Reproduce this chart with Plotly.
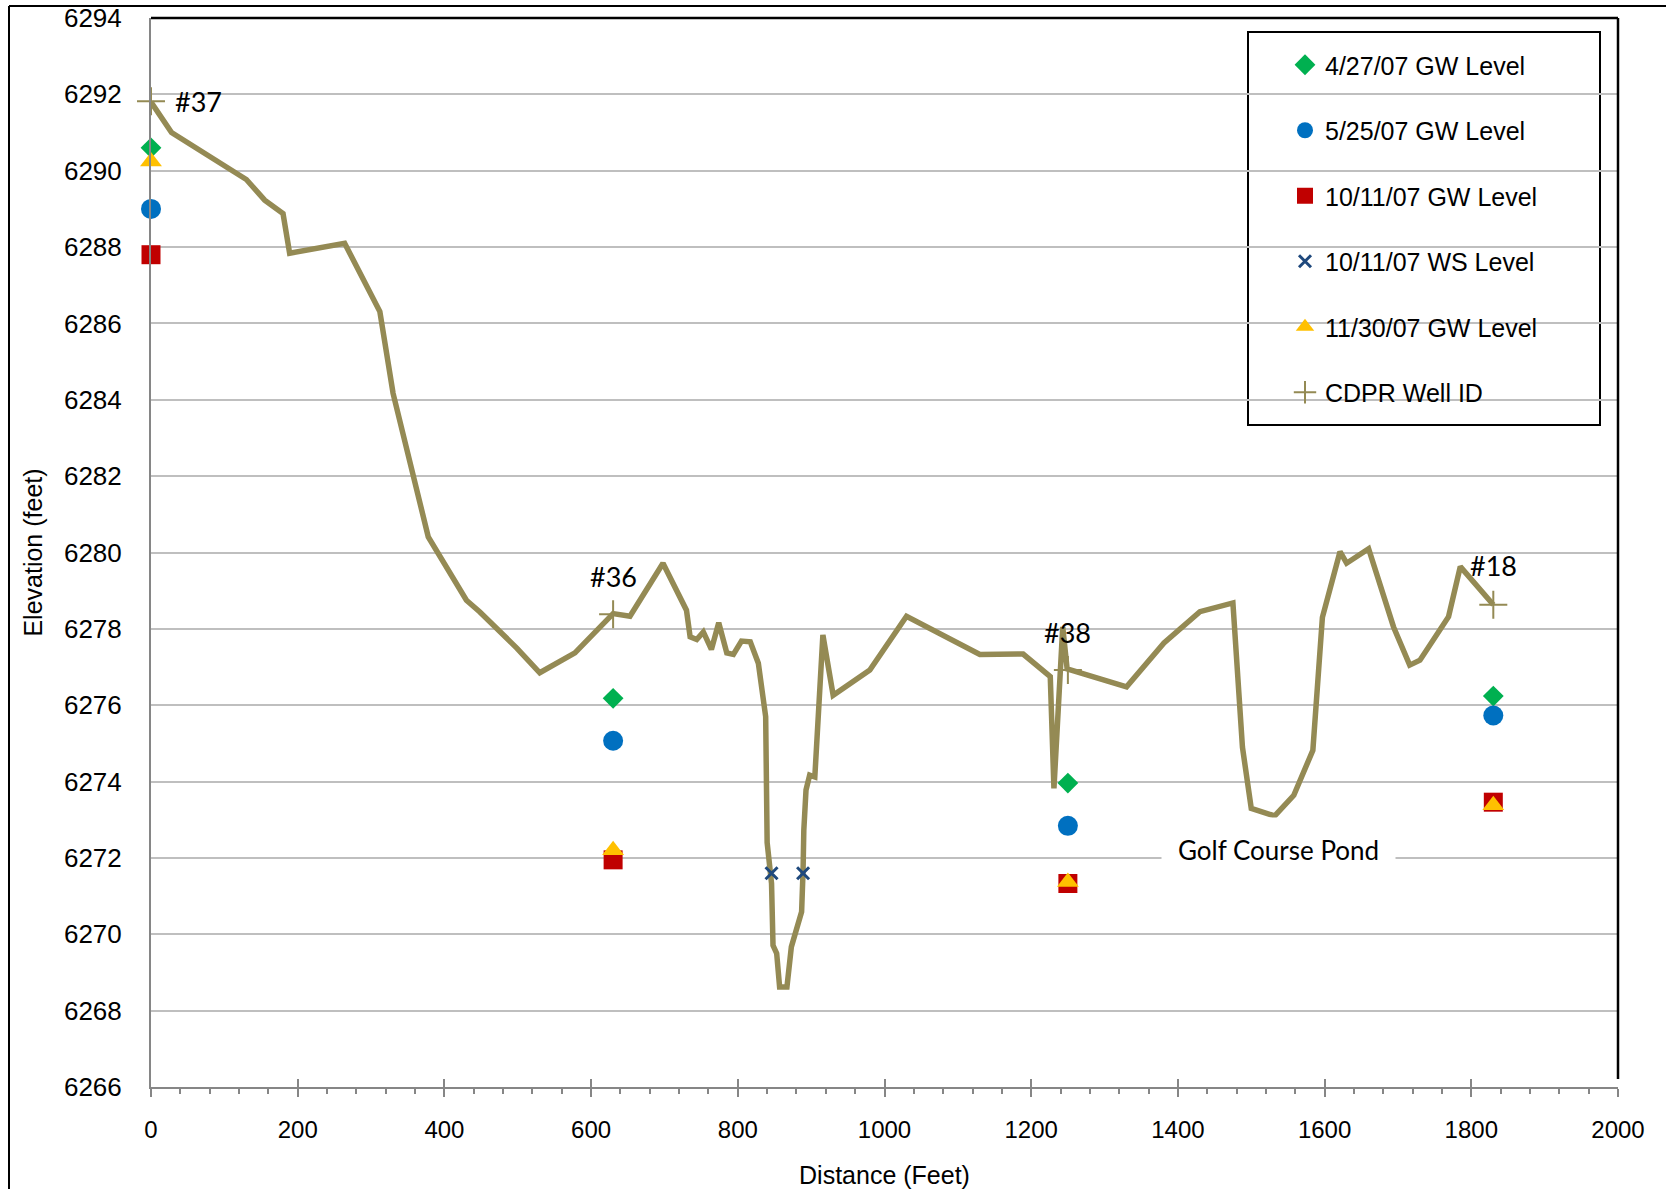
import plotly.graph_objects as go

# ---------------- data ----------------
profile_dist = [0, 28, 130, 155, 180, 189, 264, 312, 330, 378, 430, 448, 499, 530, 578,
                630, 653, 698, 730, 735, 744, 753, 764, 774, 785, 794, 805, 817, 828,
                838, 840, 846, 848, 853, 857, 867, 873, 887, 889, 890, 893, 898, 905,
                916, 930, 980, 1030, 1130, 1189, 1226, 1231, 1243, 1249, 1330, 1381,
                1430, 1475, 1488, 1500, 1532, 1558, 1584, 1597, 1621, 1630, 1660, 1694,
                1716, 1730, 1769, 1785, 1830]
profile_elev = [6291.8, 6291.0, 6289.77, 6289.23, 6288.88, 6287.84, 6288.1, 6286.31, 6284.17,
                6280.41, 6278.75, 6278.45, 6277.49, 6276.85, 6277.37,
                6278.4, 6278.33, 6279.72, 6278.49, 6277.79, 6277.72, 6277.92, 6277.46,
                6278.16, 6277.37, 6277.33, 6277.68, 6277.66, 6277.1,
                6275.7, 6272.4, 6271.33, 6269.71, 6269.5, 6268.62, 6268.62, 6269.67,
                6270.59, 6271.68, 6272.73, 6273.78, 6274.17, 6274.12,
                6277.84, 6276.26, 6276.92, 6278.33, 6277.33, 6277.34, 6276.75, 6273.82,
                6278.05, 6276.95, 6276.48, 6277.63,
                6278.45, 6278.68, 6274.9, 6273.3, 6273.1, 6273.64, 6274.82, 6278.3,
                6280.02, 6279.72, 6280.1, 6278.05,
                6277.05, 6277.18, 6278.32, 6279.63, 6278.63]

well_dist = [0, 630, 1250, 1830]
well_ids = ["#37", "#36", "#38", "#18"]
well_top = [6291.82, 6278.38, 6276.92, 6278.63]

gw_0427 = [6290.6, 6276.18, 6273.96, 6276.24]
gw_0525 = [6289.0, 6275.07, 6272.84, 6275.73]
gw_1011 = [6287.8, 6271.95, 6271.33, 6273.46]
gw_1130 = [6290.24, 6272.2, 6271.37, 6273.38]

ws_dist = [846, 889]
ws_1011 = [6271.6, 6271.6]

series_names = ["4/27/07 GW Level", "5/25/07 GW Level", "10/11/07 GW Level",
                "10/11/07 WS Level", "11/30/07 GW Level", "CDPR Well ID"]

pond_label = "Golf Course Pond"
pond_pos = (1537, 6272.2)

x_ticks = list(range(0, 2001, 200))
y_ticks = list(range(6266, 6295, 2))

# ---------------- layout geometry ----------------
W, H = 1666, 1189
L, R, T, B = 151, 1618, 18, 1087
PW, PH = R - L, B - T


def px(x):
    return (x - L) / PW


def py(y):
    return (B - y) / PH


AX_FONT = "Liberation Sans, Arial, sans-serif"
LBL_FONT = "Lato, Carlito, sans-serif"
OLIVE = "#948A54"

fig = go.Figure()

fig.add_trace(go.Scatter(x=profile_dist, y=profile_elev, mode="lines",
                         line=dict(color=OLIVE, width=5.5), showlegend=False,
                         hoverinfo="skip", cliponaxis=False))

fig.add_trace(go.Scatter(x=well_dist, y=gw_0427, mode="markers", name=series_names[0],
                         legendgroup="a", cliponaxis=False,
                         marker=dict(symbol="diamond", size=16, color="#00B050")))
fig.add_trace(go.Scatter(x=well_dist, y=gw_0525, mode="markers", name=series_names[1],
                         legendgroup="b", cliponaxis=False,
                         marker=dict(symbol="circle", size=20, color="#0070C0")))
fig.add_trace(go.Scatter(x=well_dist, y=gw_1011, mode="markers", name=series_names[2],
                         legendgroup="c", cliponaxis=False,
                         marker=dict(symbol="square", size=19, color="#C00000")))
fig.add_trace(go.Scatter(x=ws_dist, y=ws_1011, mode="markers", name=series_names[3],
                         legendgroup="d", cliponaxis=False,
                         marker=dict(symbol="x-thin", size=12, color="#1F497D",
                                     line=dict(color="#1F497D", width=3))))
fig.add_trace(go.Scatter(x=well_dist, y=gw_1130, mode="markers", name=series_names[4],
                         legendgroup="e", cliponaxis=False,
                         marker=dict(symbol="triangle-up", size=19, color="#FFC000")))
fig.add_trace(go.Scatter(x=well_dist, y=well_top, mode="markers", name=series_names[5],
                         legendgroup="f", cliponaxis=False,
                         marker=dict(symbol="cross-thin", size=20, color=OLIVE,
                                     line=dict(color=OLIVE, width=2))))

# dummy trace for overlay axis (inner part of crossing major ticks)
fig.add_trace(go.Scatter(x=[None], y=[None], xaxis="x2", showlegend=False,
                         hoverinfo="skip"))

# well labels
label_offsets = [(22, 0, "left"), (0, 38, "center"), (0, 38, "center"), (0, 39, "center")]
for d, e, txt, (xs, ys, xa) in zip(well_dist, well_top, well_ids, label_offsets):
    fig.add_annotation(x=d, y=e, text=txt, showarrow=False, xanchor=xa, yanchor="middle",
                       xshift=xs, yshift=ys, font=dict(family=LBL_FONT, size=27, color="black"))

fig.add_annotation(x=pond_pos[0], y=pond_pos[1], text=pond_label, showarrow=False,
                   xanchor="center", yanchor="middle", bgcolor="white", borderpad=16,
                   font=dict(family=LBL_FONT, size=26, color="black"))

shapes = [
    # legend frame
    dict(type="rect", xref="paper", yref="paper", x0=px(1248), x1=px(1600),
         y0=py(425), y1=py(32), fillcolor="white", line=dict(color="black", width=2),
         layer="between"),
    # plot area top & right border
    dict(type="line", xref="paper", yref="paper", x0=0, x1=1, y0=1, y1=1,
         line=dict(color="black", width=2.5)),
    dict(type="line", xref="paper", yref="paper", x0=1, x1=1, y0=py(1079), y1=1,
         line=dict(color="black", width=2.5)),
    # outer chart border (top & left)
    dict(type="line", xref="paper", yref="paper", x0=px(9), x1=px(W + 10), y0=py(6), y1=py(6),
         line=dict(color="black", width=2)),
    dict(type="line", xref="paper", yref="paper", x0=px(9), x1=px(9), y0=py(6), y1=py(H + 10),
         line=dict(color="black", width=2)),
]

fig.update_layout(
    width=W, height=H,
    margin=dict(l=L, r=W - R, t=T, b=H - B, autoexpand=False),
    paper_bgcolor="white", plot_bgcolor="white",
    shapes=shapes,
    showlegend=True,
    legend=dict(x=px(1285), y=py(42), xanchor="left", yanchor="top",
                bgcolor="rgba(0,0,0,0)", borderwidth=0, traceorder="grouped",
                tracegroupgap=30,
                font=dict(family=AX_FONT, size=25, color="black")),
    xaxis=dict(range=[0, 2000], tickvals=x_ticks, ticktext=[str(v) for v in x_ticks],
               showgrid=False, zeroline=False, showline=True, linecolor="#868686",
               linewidth=2, ticks="outside", ticklen=8, tickwidth=2, tickcolor="#868686",
               minor=dict(dtick=40, ticks="outside", ticklen=5, tickwidth=2,
                          tickcolor="#868686", showgrid=False),
               tickfont=dict(family=AX_FONT, size=24, color="black"),
               ticklabelstandoff=12,
               title=dict(text="Distance (Feet)", standoff=26,
                          font=dict(family=AX_FONT, size=25, color="black"))),
    xaxis2=dict(range=[0, 2000], overlaying="x", anchor="y", side="bottom",
                tickvals=x_ticks, showticklabels=False, showgrid=False, zeroline=False,
                showline=False, ticks="inside", ticklen=8, tickwidth=2, tickcolor="#868686"),
    yaxis=dict(range=[6266, 6294], tickvals=y_ticks, ticktext=[str(v) for v in y_ticks],
               showgrid=True, gridcolor="#BFBFBF", gridwidth=2, zeroline=False,
               showline=True, linecolor="#868686", linewidth=2, ticks="",
               tickfont=dict(family=AX_FONT, size=26, color="black"),
               ticklabelstandoff=22,
               title=dict(text="Elevation (feet)", standoff=14,
                          font=dict(family=AX_FONT, size=25, color="black"))),
)

fig.write_html("out.html")
